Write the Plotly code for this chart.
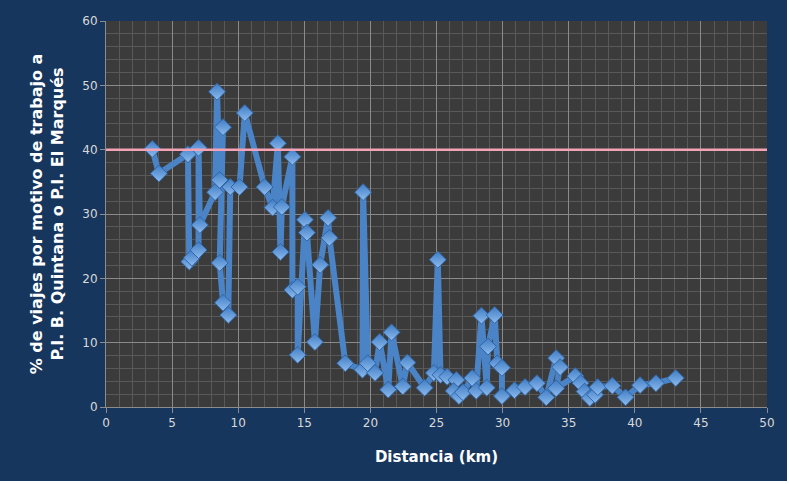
import plotly.graph_objects as go

distancia_km = [3.5, 4.0, 6.2, 6.3, 6.5, 7.0, 7.0, 7.1, 8.25, 8.4, 8.6, 8.85, 8.6, 8.85, 9.25,
                9.4, 10.1, 10.5, 12.0, 12.6, 13.0, 13.2, 13.3, 14.1, 14.1, 14.5, 14.5, 15.05,
                15.2, 15.8, 16.2, 16.8, 16.9, 18.1, 19.4, 19.45, 19.8, 20.35, 20.7, 21.35,
                21.6, 22.45, 22.8, 24.1, 24.8, 25.1, 25.3, 25.8, 26.5, 26.3, 26.7, 27.0, 27.7,
                28.0, 28.4, 28.8, 28.9, 29.4, 29.6, 29.95, 29.95, 30.9, 31.7, 32.6, 33.3,
                34.05, 34.35, 34.05, 35.5, 35.9, 36.2, 36.6, 37.0, 37.2, 38.3, 39.3, 40.4,
                41.6, 43.1]
pct_viajes = [40.1, 36.3, 39.3, 22.6, 23.2, 24.4, 40.3, 28.3, 33.4, 49.0, 35.3, 43.5, 22.4, 16.2,
              14.3, 34.2, 34.2, 45.7, 34.2, 31.0, 41.0, 24.1, 31.1, 38.9, 18.2, 18.7, 8.1, 29.1,
              27.1, 10.1, 22.1, 29.4, 26.3, 6.8, 5.8, 33.4, 6.8, 5.3, 10.1, 2.7, 11.6, 3.2, 6.9,
              3.0, 5.3, 22.9, 5.0, 4.7, 4.2, 2.5, 1.7, 2.3, 4.5, 2.5, 14.2, 3.0, 9.4, 14.3, 6.8,
              6.1, 1.7, 2.6, 3.1, 3.7, 1.5, 7.6, 6.2, 2.9, 4.8, 3.7, 2.4, 1.4, 1.9, 3.1, 3.3,
              1.5, 3.4, 3.7, 4.5]
umbral = 40
x_ticks = [0, 5, 10, 15, 20, 25, 30, 35, 40, 45, 50]
y_ticks = [0, 10, 20, 30, 40, 50, 60]

navy = "#17365d"
fig = go.Figure()
fig.add_trace(go.Scatter(
    x=distancia_km, y=pct_viajes, mode="lines+markers",
    line=dict(color="#4a84c6", width=6),
    marker=dict(symbol="diamond", size=13, color="#3f7cc4",
                gradient=dict(type="vertical", color="#8dbbee"),
                line=dict(color="#2f66a8", width=1)),
    showlegend=False, hoverinfo="x+y"))

fig.add_shape(type="line", xref="x", yref="y", x0=-0.4, x1=50, y0=umbral, y1=umbral,
              line=dict(color="#f4a3b6", width=2.5), layer="above")

axis_common = dict(showline=True, linecolor="#8c8c8c", linewidth=1, ticks="outside",
                   tickcolor="#8c8c8c", ticklen=5, showgrid=True, gridcolor="#8a8a8a",
                   gridwidth=1, zeroline=False,
                   tickfont=dict(family="DejaVu Sans", size=12, color="#d9d9d9"))

fig.update_layout(
    width=787, height=481,
    paper_bgcolor=navy, plot_bgcolor="#3b3b3b",
    margin=dict(l=106, r=20, t=21, b=74),
    xaxis=dict(range=[0, 50], tickvals=x_ticks, **axis_common,
               minor=dict(dtick=1, showgrid=True, gridcolor="#595959", gridwidth=1),
               title=dict(text="<b>Distancia (km)</b>", standoff=22,
                          font=dict(family="DejaVu Sans", size=15, color="#ffffff"))),
    yaxis=dict(range=[0, 60], tickvals=y_ticks, **axis_common,
               minor=dict(dtick=2, showgrid=True, gridcolor="#595959", gridwidth=1),
               title=dict(text="<b>% de viajes por motivo de trabajo a<br>P.I. B. Quintana o P.I. El Marqués</b>",
                          standoff=14,
                          font=dict(family="DejaVu Sans", size=16, color="#ffffff"))),
)

fig.write_html("out.html", config={"displayModeBar": False},
               post_script="document.body.style.margin='0';")
